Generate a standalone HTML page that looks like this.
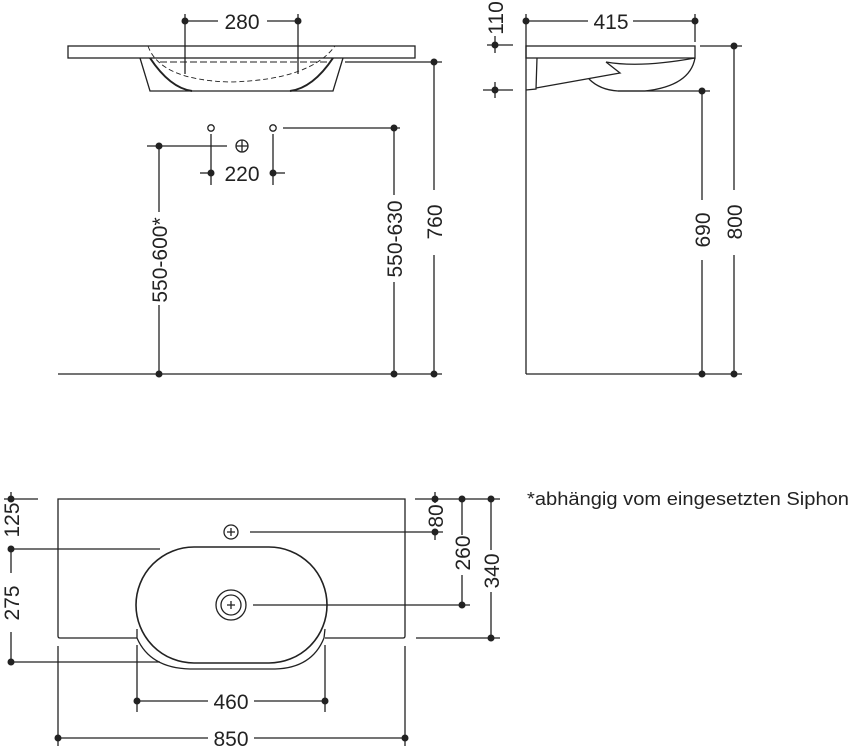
<!DOCTYPE html>
<html><head><meta charset="utf-8"><style>
html,body{margin:0;padding:0;background:#fff;}
svg{display:block;font-family:"Liberation Sans",sans-serif;}
</style></head><body>
<svg width="851" height="750" viewBox="0 0 851 750" xmlns="http://www.w3.org/2000/svg">
<g stroke="#222" stroke-width="1.3" fill="none">
<!-- front view -->
<rect x="68" y="46" width="347" height="12" fill="#fff"/>
<path d="M140 58 L150 91 L333 91 L343 58"/>
<path d="M150 58 Q170 88 192 91 M333 58 Q313 88 290 91" stroke-width="2"/>
<path d="M148 46 Q160 80 230 82 Q310 80 335 46" stroke-dasharray="5,3" stroke-width="0.9"/>
<path d="M160 62 L330 62" stroke-dasharray="7,3" stroke-width="0.9"/>
<line x1="185" y1="14" x2="185" y2="74"/><line x1="298" y1="14" x2="298" y2="74"/>
<line x1="185" y1="21" x2="218" y2="21"/><line x1="267" y1="21" x2="298" y2="21"/>
<circle cx="211" cy="128" r="3.2" fill="#fff"/><circle cx="273" cy="128" r="3.2" fill="#fff"/>
<circle cx="242" cy="146" r="6" fill="#fff"/><path d="M236 146h12M242 140v12"/>
<line x1="211" y1="134" x2="211" y2="185"/><line x1="273" y1="134" x2="273" y2="185"/>
<line x1="200" y1="173" x2="211" y2="173"/><line x1="273" y1="173" x2="285" y2="173"/>
<line x1="147" y1="146" x2="227" y2="146"/>
<line x1="159" y1="146" x2="159" y2="212"/><line x1="159" y1="305" x2="159" y2="374"/>
<line x1="283" y1="128" x2="400" y2="128"/>
<line x1="394" y1="128" x2="394" y2="195"/><line x1="394" y1="282" x2="394" y2="374"/>
<line x1="345" y1="62" x2="442" y2="62"/>
<line x1="434" y1="62" x2="434" y2="190"/><line x1="434" y1="255" x2="434" y2="374"/>
<line x1="58" y1="374" x2="442" y2="374"/>
<!-- side view -->
<rect x="526" y="46" width="169" height="12" fill="#fff"/>
<line x1="526" y1="46" x2="526" y2="374"/>
<path d="M537 58 L536 89 L526 90 M536 88 L620 73 L606 62"/>
<path d="M606 62 Q640 68 695 58 M589 79 Q600 90 618 91 L645 91 Q690 86 695 58" />
<line x1="618" y1="91" x2="710" y2="91"/>
<line x1="702" y1="91" x2="702" y2="200"/><line x1="702" y1="260" x2="702" y2="374"/>
<line x1="700" y1="46" x2="742" y2="46"/>
<line x1="734" y1="46" x2="734" y2="190"/><line x1="734" y1="255" x2="734" y2="374"/>
<line x1="526" y1="374" x2="742" y2="374"/>
<line x1="526" y1="14" x2="526" y2="46"/><line x1="695" y1="14" x2="695" y2="42"/>
<line x1="526" y1="21" x2="588" y2="21"/><line x1="633" y1="21" x2="695" y2="21"/>
<line x1="487" y1="45" x2="513" y2="45"/><line x1="483" y1="90" x2="513" y2="90"/>
<line x1="495" y1="36" x2="495" y2="53"/><line x1="495" y1="82" x2="495" y2="98"/>
<!-- bottom view -->
<path d="M325 638 L403 638 Q405 638 405 636 L405 499 L58 499 L58 636 Q58 638 60 638 L137 638"/>
<path d="M137 629 L137 638 Q150 668 190 669 L275 669 Q312 668 324 638 L325 629"/>
<rect x="136" y="547" width="191" height="116" rx="58" ry="58" fill="#fff" stroke-width="1.6"/>
<circle cx="231" cy="605" r="15"/><circle cx="231" cy="605" r="10"/><path d="M227 605h8M231 601v8"/>
<circle cx="231" cy="532" r="7"/><path d="M227 532h8M231 528v8"/>
<line x1="4" y1="499" x2="38" y2="499"/>
<line x1="11" y1="549" x2="160" y2="549"/><line x1="11" y1="662" x2="160" y2="662"/>
<line x1="11" y1="492" x2="11" y2="502"/>
<line x1="11" y1="549" x2="11" y2="573"/><line x1="11" y1="632" x2="11" y2="662"/>
<line x1="415" y1="499" x2="500" y2="499"/>
<line x1="250" y1="532" x2="443" y2="532"/>
<line x1="253" y1="605" x2="470" y2="605"/>
<line x1="416" y1="638" x2="500" y2="638"/>
<line x1="435" y1="492" x2="435" y2="503"/><line x1="435" y1="529" x2="435" y2="540"/>
<line x1="462" y1="499" x2="462" y2="535"/><line x1="462" y1="575" x2="462" y2="605"/>
<line x1="491" y1="499" x2="491" y2="550"/><line x1="491" y1="592" x2="491" y2="638"/>
<line x1="137" y1="645" x2="137" y2="712"/><line x1="325" y1="645" x2="325" y2="712"/>
<line x1="137" y1="701" x2="208" y2="701"/><line x1="254" y1="701" x2="325" y2="701"/>
<line x1="58" y1="646" x2="58" y2="746"/><line x1="405" y1="646" x2="405" y2="746"/>
<line x1="58" y1="738" x2="208" y2="738"/><line x1="254" y1="738" x2="405" y2="738"/>
</g>
<g fill="#222">
<circle cx="185" cy="21" r="3.5"/><circle cx="298" cy="21" r="3.5"/>
<circle cx="211" cy="173" r="3.5"/><circle cx="273" cy="173" r="3.5"/>
<circle cx="159" cy="146" r="3.5"/><circle cx="394" cy="128" r="3.5"/><circle cx="434" cy="62" r="3.5"/>
<circle cx="159" cy="374" r="3.5"/><circle cx="394" cy="374" r="3.5"/><circle cx="434" cy="374" r="3.5"/>
<circle cx="526" cy="21" r="3.5"/><circle cx="695" cy="21" r="3.5"/>
<circle cx="495" cy="45" r="3.5"/><circle cx="495" cy="90" r="3.5"/>
<circle cx="702" cy="91" r="3.5"/><circle cx="734" cy="46" r="3.5"/>
<circle cx="702" cy="374" r="3.5"/><circle cx="734" cy="374" r="3.5"/>
<circle cx="11" cy="499" r="3.5"/><circle cx="11" cy="549" r="3.5"/><circle cx="11" cy="662" r="3.5"/>
<circle cx="435" cy="499" r="3.5"/><circle cx="435" cy="532" r="3.5"/>
<circle cx="462" cy="499" r="3.5"/><circle cx="462" cy="605" r="3.5"/>
<circle cx="491" cy="499" r="3.5"/><circle cx="491" cy="638" r="3.5"/>
<circle cx="137" cy="701" r="3.5"/><circle cx="325" cy="701" r="3.5"/>
<circle cx="58" cy="738" r="3.5"/><circle cx="405" cy="738" r="3.5"/>
</g>
<g fill="#222" font-size="21" text-anchor="middle">
<text x="242" y="29">280</text>
<text x="242" y="181">220</text>
<text x="611" y="29">415</text>
<text x="231" y="709">460</text>
<text x="231" y="746">850</text>
<text transform="translate(167,260) rotate(-90)">550-600*</text>
<text transform="translate(402,239) rotate(-90)">550-630</text>
<text transform="translate(442,222) rotate(-90)">760</text>
<text transform="translate(710,230) rotate(-90)">690</text>
<text transform="translate(742,222) rotate(-90)">800</text>
<text transform="translate(503,18) rotate(-90)">110</text>
<text transform="translate(19,520) rotate(-90)">125</text>
<text transform="translate(19,603) rotate(-90)">275</text>
<text transform="translate(443,516) rotate(-90)">80</text>
<text transform="translate(470,553) rotate(-90)">260</text>
<text transform="translate(499,571) rotate(-90)">340</text>
</g>
<text x="527" y="505" font-size="18" fill="#222" textLength="322" lengthAdjust="spacingAndGlyphs">*abhängig vom eingesetzten Siphon</text>
</svg>
</body></html>
